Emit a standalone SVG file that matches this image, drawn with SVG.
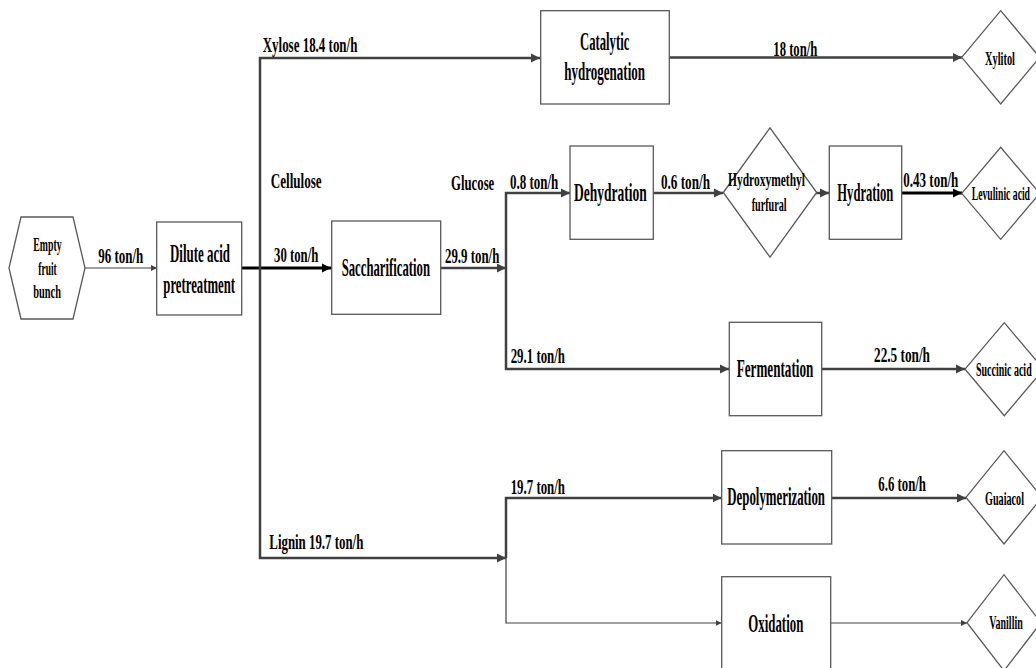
<svg xmlns="http://www.w3.org/2000/svg" width="1036" height="668" viewBox="0 0 1036 668">
<style>
.box{fill:#fff;stroke:#595959;stroke-width:1.3}
.t{font-family:"Liberation Serif","Times New Roman",serif;font-weight:bold;fill:#000}
.lg{font-size:25px}
.md{font-size:22px}
.sm{font-size:18px}
.ln{fill:none;stroke:#404040;stroke-width:2.5}
.thin{stroke-width:1.2}
.blk{stroke:#000;stroke-width:3}
</style>
<defs>
<marker id="ah" viewBox="0 0 10 10" refX="10" refY="5" markerWidth="9" markerHeight="11" markerUnits="userSpaceOnUse" orient="auto"><path d="M0,0 L10,5 L0,10 z" fill="#404040"/></marker>
<marker id="ahb" viewBox="0 0 10 10" refX="10" refY="5" markerWidth="9" markerHeight="12" markerUnits="userSpaceOnUse" orient="auto"><path d="M0,0 L10,5 L0,10 z" fill="#000"/></marker>
<marker id="aht" viewBox="0 0 10 10" refX="10" refY="5" markerWidth="6" markerHeight="8" markerUnits="userSpaceOnUse" orient="auto"><path d="M0,0 L10,5 L0,10 z" fill="#404040"/></marker>
</defs>
<rect width="1036" height="668" fill="#fff"/>

<g id="connectors">
<path class="ln thin" d="M85,268 H157" marker-end="url(#aht)"/>
<path class="ln blk" d="M242,268 H331" marker-end="url(#ahb)"/>
<path class="ln" d="M260,268 V58 H540" marker-end="url(#ah)"/>
<path class="ln" d="M260,268 V558 H506" marker-end="url(#ah)"/>
<path class="ln" d="M669,57.5 H962" marker-end="url(#ah)"/>
<path class="ln" d="M441,268 H506" marker-end="url(#ah)"/>
<path class="ln" d="M506,268 V193 H570" marker-end="url(#ah)"/>
<path class="ln" d="M506,268 V369 H729" marker-end="url(#ah)"/>
<path class="ln" d="M653,193 H723" marker-end="url(#ah)"/>
<path class="ln" d="M816,193 H829" marker-end="url(#ah)"/>
<path class="ln blk" d="M902,193 H962" marker-end="url(#ahb)"/>
<path class="ln" d="M822,369 H965" marker-end="url(#ah)"/>
<path class="ln" d="M506,558 V498 H721.5" marker-end="url(#ah)"/>
<path class="ln thin" d="M506,558 V623 H721.5" marker-end="url(#aht)"/>
<path class="ln" d="M832,498 H966" marker-end="url(#ah)"/>
<path class="ln thin" d="M831,623 H967" marker-end="url(#aht)"/>
</g>

<g id="labels">
<text class="t md" x="98.3" y="263.3" textLength="45" lengthAdjust="spacingAndGlyphs">96 ton/h</text>
<text class="t md" x="274" y="261.7" textLength="44.3" lengthAdjust="spacingAndGlyphs">30 ton/h</text>
<text class="t md" x="270.7" y="188.3" textLength="51" lengthAdjust="spacingAndGlyphs">Cellulose</text>
<text class="t md" x="262.7" y="51.7" textLength="94.7" lengthAdjust="spacingAndGlyphs">Xylose 18.4 ton/h</text>
<text class="t md" x="445" y="263.3" textLength="54.3" lengthAdjust="spacingAndGlyphs">29.9 ton/h</text>
<text class="t md" x="451" y="190" textLength="43.3" lengthAdjust="spacingAndGlyphs">Glucose</text>
<text class="t md" x="510" y="188.5" textLength="48.3" lengthAdjust="spacingAndGlyphs">0.8 ton/h</text>
<text class="t md" x="661" y="188.5" textLength="49" lengthAdjust="spacingAndGlyphs">0.6 ton/h</text>
<text class="t md" x="903.3" y="186.7" textLength="55" lengthAdjust="spacingAndGlyphs">0.43 ton/h</text>
<text class="t md" x="773.3" y="56" textLength="44" lengthAdjust="spacingAndGlyphs">18 ton/h</text>
<text class="t md" x="510.7" y="363.3" textLength="54.3" lengthAdjust="spacingAndGlyphs">29.1 ton/h</text>
<text class="t md" x="874" y="362.3" textLength="56" lengthAdjust="spacingAndGlyphs">22.5 ton/h</text>
<text class="t md" x="510.7" y="494" textLength="54.3" lengthAdjust="spacingAndGlyphs">19.7 ton/h</text>
<text class="t md" x="269.3" y="549.3" textLength="94" lengthAdjust="spacingAndGlyphs">Lignin 19.7 ton/h</text>
<text class="t md" x="878.3" y="491" textLength="47.7" lengthAdjust="spacingAndGlyphs">6.6 ton/h</text>
</g>

<g id="node-efb">
<polygon class="box" points="21,217 73,217 85,268 73,319 21,319 9,268"/>
<text class="t sm" x="33.3" y="250.7" textLength="28.4" lengthAdjust="spacingAndGlyphs">Empty</text>
<text class="t sm" x="38.3" y="275" textLength="18.4" lengthAdjust="spacingAndGlyphs">fruit</text>
<text class="t sm" x="33.3" y="298.3" textLength="27.7" lengthAdjust="spacingAndGlyphs">bunch</text>
</g>

<g id="node-dilute">
<rect class="box" x="156.7" y="222" width="85" height="93"/>
<text class="t lg" x="170" y="261.7" textLength="60" lengthAdjust="spacingAndGlyphs">Dilute acid</text>
<text class="t lg" x="163.3" y="293" textLength="71.7" lengthAdjust="spacingAndGlyphs">pretreatment</text>
</g>

<g id="node-sacch">
<rect class="box" x="331.7" y="221" width="109" height="93.3"/>
<text class="t lg" x="341.7" y="276" textLength="88.3" lengthAdjust="spacingAndGlyphs">Saccharification</text>
</g>

<g id="node-catalytic">
<rect class="box" x="540.7" y="10.7" width="128.6" height="93.3"/>
<text class="t lg" x="580" y="50" textLength="49.3" lengthAdjust="spacingAndGlyphs">Catalytic</text>
<text class="t lg" x="564.3" y="80" textLength="80.7" lengthAdjust="spacingAndGlyphs">hydrogenation</text>
</g>

<g id="node-xylitol">
<polygon class="box" points="961.7,57.3 1000.7,10.7 1039.7,57.3 1000.7,104"/>
<text class="t sm" x="985" y="65" textLength="30" lengthAdjust="spacingAndGlyphs">Xylitol</text>
</g>

<g id="node-dehydration">
<rect class="box" x="570" y="146" width="83.3" height="93.3"/>
<text class="t lg" x="574" y="201" textLength="72.7" lengthAdjust="spacingAndGlyphs">Dehydration</text>
</g>

<g id="node-hmf">
<polygon class="box" points="723.3,192.5 770,127.8 816.7,192.5 770,257.2"/>
<text class="t sm" x="728" y="186" textLength="77" lengthAdjust="spacingAndGlyphs">Hydroxymethyl</text>
<text class="t sm" x="751.7" y="211" textLength="35" lengthAdjust="spacingAndGlyphs">furfural</text>
</g>

<g id="node-hydration">
<rect class="box" x="829.3" y="146" width="72.4" height="93.3"/>
<text class="t lg" x="837.3" y="201" textLength="56" lengthAdjust="spacingAndGlyphs">Hydration</text>
</g>

<g id="node-levulinic">
<polygon class="box" points="961.7,193.3 1000.7,147.3 1039.7,193.3 1000.7,239.3"/>
<text class="t sm" x="971.7" y="200" textLength="58.3" lengthAdjust="spacingAndGlyphs">Levulinic acid</text>
</g>

<g id="node-fermentation">
<rect class="box" x="729.3" y="322.3" width="92.4" height="93.4"/>
<text class="t lg" x="736.7" y="377.3" textLength="76.6" lengthAdjust="spacingAndGlyphs">Fermentation</text>
</g>

<g id="node-succinic">
<polygon class="box" points="965,369.2 1004.3,322.7 1043.6,369.2 1004.3,415.7"/>
<text class="t sm" x="976" y="376" textLength="55.7" lengthAdjust="spacingAndGlyphs">Succinic acid</text>
</g>

<g id="node-depoly">
<rect class="box" x="721.7" y="450.7" width="110" height="93.3"/>
<text class="t lg" x="727.3" y="505" textLength="97.7" lengthAdjust="spacingAndGlyphs">Depolymerization</text>
</g>

<g id="node-guaiacol">
<polygon class="box" points="966,497.4 1004,450.7 1042,497.4 1004,544"/>
<text class="t sm" x="985" y="505" textLength="39" lengthAdjust="spacingAndGlyphs">Guaiacol</text>
</g>

<g id="node-oxidation">
<rect class="box" x="721.7" y="576.7" width="109" height="110"/>
<text class="t lg" x="748.3" y="631.7" textLength="55" lengthAdjust="spacingAndGlyphs">Oxidation</text>
</g>

<g id="node-vanillin">
<polygon class="box" points="967,622.7 1004,574.7 1041,622.7 1004,670.7"/>
<text class="t sm" x="989.3" y="629.3" textLength="33.4" lengthAdjust="spacingAndGlyphs">Vanillin</text>
</g>
</svg>
